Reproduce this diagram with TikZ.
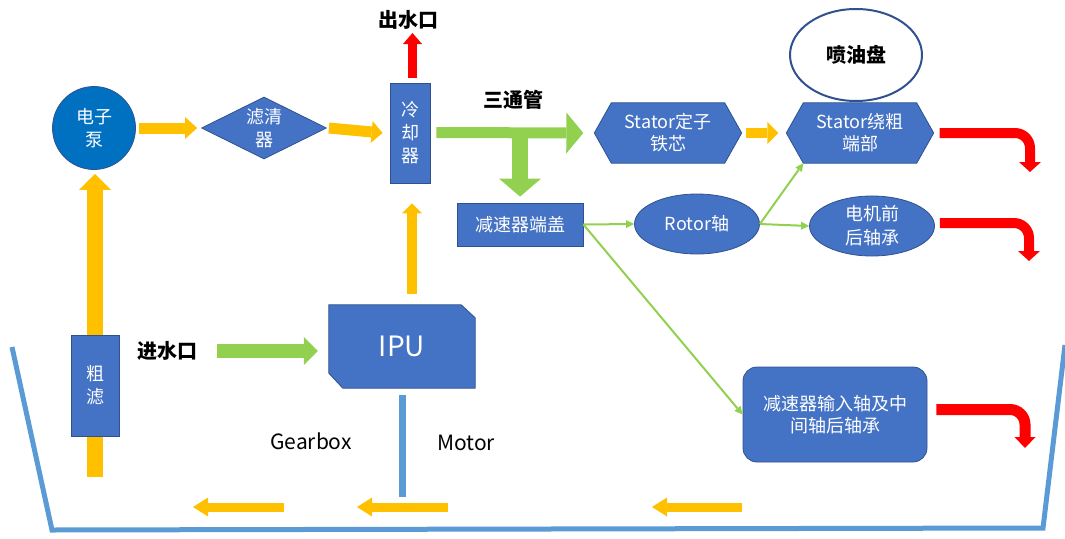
\documentclass[tikz,border=0pt]{standalone}
\usepackage{fontspec}
\setmainfont{Noto Sans CJK SC}
\usetikzlibrary{arrows.meta,shapes.geometric,backgrounds}

\definecolor{nodeblue}{HTML}{4472C4}
\definecolor{edgeblue}{HTML}{2F528F}
\definecolor{pumpblue}{HTML}{0070C0}
\definecolor{flowyellow}{HTML}{FFC000}
\definecolor{flowgreen}{HTML}{92D050}
\definecolor{flowred}{HTML}{FF0000}
\definecolor{tankblue}{HTML}{5B9BD5}

\begin{document}
\begin{tikzpicture}[x=1pt,y=-1pt,
  box/.style={draw=edgeblue, line width=0.8pt, fill=nodeblue, text=white,
    font=\fontsize{18}{23}\selectfont, align=center, inner sep=0pt},
  hexbox/.style={text=white, font=\fontsize{18}{22}\selectfont, align=center,
    inner sep=0pt, minimum width=147pt, minimum height=60pt},
  hexface/.style={draw=edgeblue, line width=0.8pt, fill=nodeblue},
  lbl/.style={font=\fontsize{20}{24}\selectfont\bfseries, inner sep=0pt},
  txt/.style={font=\fontsize{21}{24}\selectfont, inner sep=0pt},
  fat/.style args={#1/#2/#3}{line width=#1,
    -{Triangle[length=#2,width=#3,line width=0pt]}},
  bent/.style args={#1/#2/#3}{line width=#1, rounded corners=15pt,
    -{Triangle[length=#2,width=#3,line width=0pt]}},
  link/.style={draw=flowgreen, line width=2pt,
    -{Triangle[length=8pt,width=8pt,line width=0pt]}},
  tankline/.style={draw=tankblue, line width=5pt}
]
\useasboundingbox (0,0) rectangle (1065,538);

% free ends of the flow arrows
\coordinate (inlet) at (95,477);
\coordinate (outtip) at (412.5,33);
\coordinate (teej) at (520,133);
\coordinate (r1) at (1030,172);
\coordinate (r2) at (1029,261);
\coordinate (r3) at (1025,448);
\coordinate (mbot) at (402.5,497);
\coordinate (b1s) at (284,507); \coordinate (b1e) at (193,507);
\coordinate (b2s) at (448,507); \coordinate (b2e) at (357,507);
\coordinate (b3s) at (742,507); \coordinate (b3e) at (652,507);
\coordinate (t1) at (12,347); \coordinate (t2) at (52,530);
\coordinate (t3) at (1043,528); \coordinate (t4) at (1065,345);

% oil tank outline
\draw[tankline] (t1) -- (t2) -- (t3) -- (t4);

% pump, filter, cooler
\node[box, circle, fill=pumpblue, minimum size=83pt] (pump) at (94,128) {电子\\泵};
\node[box, diamond, aspect=2, minimum width=125pt, minimum height=62pt] (filt) at (264,128) {滤清\\器};
\node[box, minimum width=40pt, minimum height=100pt] (cool) at (410,133) {冷\\却\\器};
\node[lbl] (outl) at (408,20) {出水口};
\node[lbl] (tee) at (513,100) {三通管};

% stator parts and oil spray disk
\node[hexbox] (st1) at (668,133) {Stator定子\\铁芯};
\node[hexbox] (st2) at (860,133) {Stator绕粗\\端部};
\node[draw=edgeblue, line width=2pt, fill=white, ellipse, minimum width=132pt,
  minimum height=92pt, inner sep=0pt, font=\fontsize{20}{24}\selectfont\bfseries] (disk) at (856,55) {喷油盘};

% gearbox cover, rotor, bearings
\node[box, minimum width=126pt, minimum height=43pt] (cover) at (520,224.5) {减速器端盖};
\node[box, ellipse, minimum width=125pt, minimum height=60pt] (rotor) at (697,224) {Rotor轴};
\node[box, ellipse, minimum width=125pt, minimum height=60pt, font=\fontsize{18}{24}\selectfont] (brg) at (872,226) {电机前\\后轴承};
\node[box, rounded corners=14pt, minimum width=184pt, minimum height=95pt,
  font=\fontsize{18}{22}\selectfont] (gin) at (835,414.5) {减速器输入轴及中\\间轴后轴承};

% IPU and inlet
\node[text=white, font=\fontsize{28}{30}\selectfont, inner sep=0pt,
  minimum width=146pt, minimum height=83pt] (ipu) at (402,346.5) {IPU};
\node[lbl] (inl) at (167,351) {进水口};
\node[txt] (gb) at (311,441) {Gearbox};
\node[txt] (mot) at (466,443) {Motor};

% shaped faces behind the text
\begin{scope}[on background layer]
  \foreach \n in {st1,st2}
    \draw[hexface] (\n.west) -- ([xshift=17pt]\n.north west)
      -- ([xshift=-17pt]\n.north east) -- (\n.east)
      -- ([xshift=-17pt]\n.south east) -- ([xshift=17pt]\n.south west) -- cycle;
  \draw[hexface] (ipu.north west) -- ([xshift=-14pt]ipu.north east)
    -- ([yshift=-13pt]ipu.north east) -- (ipu.south east)
    -- ([xshift=14pt]ipu.south west) -- ([yshift=15pt]ipu.south west) -- cycle;
\end{scope}

% suction line up to the pump, behind the coarse filter
\draw[flowyellow, fat=16pt/16pt/32pt] (inlet) -- ([xshift=1pt,yshift=-4pt]pump.south);
\node[box, minimum width=48pt, minimum height=101pt] (coarse) at (95,385.5) {粗\\滤};

% oil path
\draw[flowyellow, fat=11pt/12pt/22pt] ([xshift=3pt]pump.east) -- ([xshift=-4pt]filt.west);
\draw[flowyellow, fat=11pt/11pt/22pt] ([xshift=2pt]filt.east) -- ([xshift=-7pt]cool.west);
\draw[flowgreen, fat=11pt/17pt/41pt] ([xshift=6pt,yshift=0.5pt]cool.east) -- ([xshift=-11pt]st1.west);
\draw[flowgreen, fat=16pt/18pt/42pt] (teej) -- ([yshift=6pt]cover.north);
\draw[flowyellow, fat=10pt/11pt/22pt] ([xshift=4pt]st1.east) -- ([xshift=-8pt]st2.west);

% water path
\draw[flowred, fat=9pt/11pt/19pt] ([xshift=2.5pt,yshift=5pt]cool.north) -- (outtip);
\draw[flowgreen, fat=14pt/14pt/28pt] ([xshift=20pt]inl.east) -- ([xshift=-11pt]ipu.west |- inl.east);
\draw[flowyellow, fat=10pt/10pt/20pt] ([xshift=10pt,yshift=11pt]ipu.north) -- ([xshift=2pt,yshift=-20pt]cool.south);
\draw[tankblue, line width=7pt] ([xshift=0.5pt,yshift=-7pt]ipu.south) -- (mbot);

% oil distribution from the cover
\draw[link] (cover.east) -- (rotor.west);
\draw[link] (cover.east) -- (gin.west);
\draw[link] (rotor.east) -- ([xshift=17pt]st2.south west);
\draw[link] (rotor.east) -- (brg.west);

% drain back to the sump
\draw[flowred, bent=10pt/10pt/22pt] ([xshift=6pt]st2.east) -| (r1);
\draw[flowred, bent=10pt/10pt/22pt] ([xshift=5pt,yshift=3pt]brg.east) -| (r2);
\draw[flowred, bent=11pt/11pt/21pt] ([xshift=9pt,yshift=5pt]gin.east) -| (r3);

% return flow along the sump floor
\draw[flowyellow, fat=9pt/15pt/19pt] (b1s) -- (b1e);
\draw[flowyellow, fat=9pt/15pt/19pt] (b2s) -- (b2e);
\draw[flowyellow, fat=9pt/15pt/19pt] (b3s) -- (b3e);
\end{tikzpicture}
\end{document}
